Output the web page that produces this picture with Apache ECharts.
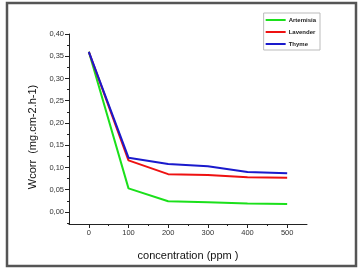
<!DOCTYPE html>
<html>
<head>
<meta charset="utf-8">
<script src="https://cdn.jsdelivr.net/npm/echarts@6/dist/echarts.min.js"></script>
<style>
  html, body { margin: 0; padding: 0; background: #fff; }
  #chart { width: 359px; height: 271px; }
</style>
</head>
<body>
<div id="chart"></div>
<script>
const concentration = [0, 100, 200, 300, 400, 500];
const artemisia = [0.36, 0.053, 0.024, 0.022, 0.019, 0.018];
const lavender = [0.36, 0.116, 0.085, 0.083, 0.078, 0.077];
const thyme = [0.36, 0.122, 0.108, 0.103, 0.090, 0.087];
const yTicks = [0, 0.05, 0.1, 0.15, 0.2, 0.25, 0.3, 0.35, 0.4];
const yMinorTicks = [-0.025, 0.025, 0.075, 0.125, 0.175, 0.225, 0.275, 0.325, 0.375];
const xTicks = [0, 100, 200, 300, 400, 500];

const pairs = (ys) => concentration.map((x, i) => [x, ys[i]]);
const font = 'Liberation Sans';

const myChart = echarts.init(document.getElementById('chart'));
const lineSeries = (name, data, color) => ({
  name: name,
  type: 'line',
  data: pairs(data),
  symbol: 'none',
  lineStyle: { color: color, width: 2 },
  itemStyle: { color: color },
  animation: false,
});

const option = {
  backgroundColor: '#fff',
  animation: false,
  graphic: [
    {
      type: 'rect',
      shape: { x: 7, y: 3, width: 349, height: 263 },
      style: { fill: 'none', stroke: '#555', lineWidth: 2.5 },
      silent: true,
    },
  ],
  grid: { left: 69, top: 34, right: 52, bottom: 47 },
  legend: {
    orient: 'vertical',
    right: 39,
    top: 13,
    itemWidth: 20,
    itemHeight: 2,
    itemGap: 6,
    icon: 'rect',
    borderColor: '#bbb',
    borderWidth: 1,
    borderRadius: 0,
    padding: [4, 4, 3, 2],
    textStyle: { fontFamily: font, fontSize: 6, fontWeight: 'bold', color: '#222', padding: [0, 0, 0, -2] },
    data: ['Artemisia', 'Lavender', 'Thyme'],
  },
  xAxis: {
    type: 'value',
    min: -50,
    max: 550,
    name: 'concentration (ppm )',
    nameLocation: 'middle',
    nameGap: 26,
    nameTextStyle: { fontFamily: font, fontSize: 11, color: '#111' },
    splitLine: { show: false },
    axisLine: { onZero: false, lineStyle: { color: '#222', width: 1 } },
    axisTick: { show: true, inside: false, length: 4, customValues: xTicks, lineStyle: { color: '#222' } },
    minorTick: { show: true, splitNumber: 2, length: 2, lineStyle: { color: '#222' } },
    axisLabel: { customValues: xTicks, fontFamily: font, fontSize: 7.5, color: '#333', margin: 5 },
  },
  yAxis: [
    {
      type: 'value',
      min: -0.027,
      max: 0.4,
      name: 'Wcorr  (mg.cm-2.h-1)',
      nameLocation: 'middle',
      nameGap: 25,
      nameRotate: 90,
      nameTextStyle: { fontFamily: font, fontSize: 11, color: '#111', padding: [0, 16, 0, 0] },
      splitLine: { show: false },
      axisLine: { show: true, onZero: false, lineStyle: { color: '#222', width: 1 } },
      axisTick: { show: true, inside: false, length: 4, customValues: yTicks, lineStyle: { color: '#222' } },
      minorTick: { show: false },
      axisLabel: {
        customValues: yTicks,
        fontFamily: font,
        fontSize: 7.5,
        color: '#333',
        margin: 5,
        formatter: (v) => v.toFixed(2).replace('.', ','),
      },
    },
    {
      // short minor ticks halfway between the labelled ones
      type: 'value',
      position: 'left',
      min: -0.027,
      max: 0.4,
      splitLine: { show: false },
      axisLine: { show: false, onZero: false },
      axisTick: { show: true, inside: false, length: 2, customValues: yMinorTicks, lineStyle: { color: '#222' } },
      axisLabel: { show: false },
    },
  ],
  series: [
    lineSeries('Artemisia', artemisia, '#1be01b'),
    lineSeries('Lavender', lavender, '#ee1111'),
    lineSeries('Thyme', thyme, '#1a1acc'),
  ],
};
myChart.setOption(option);
</script>
</body>
</html>
